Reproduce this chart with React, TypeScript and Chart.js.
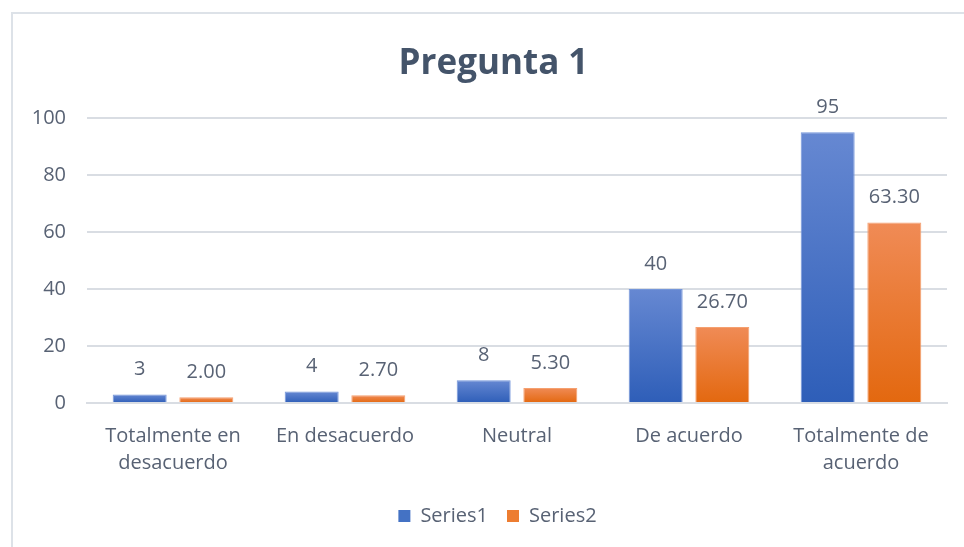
import React, { useEffect, useRef } from "react";
import { Chart, registerables } from "chart.js";

Chart.register(...registerables);

const categories: string[][] = [
  ["Totalmente en", "desacuerdo"],
  ["En desacuerdo"],
  ["Neutral"],
  ["De acuerdo"],
  ["Totalmente de", "acuerdo"],
];
const series1: number[] = [3, 4, 8, 40, 95];
const series2: number[] = [2.0, 2.7, 5.3, 26.7, 63.3];
const series1Labels: string[] = ["3", "4", "8", "40", "95"];
const series2Labels: string[] = ["2.00", "2.70", "5.30", "26.70", "63.30"];
const yTicks: number[] = [0, 20, 40, 60, 80, 100];

const TEXT = "#586274";
const FONT = "'Open Sans', 'DejaVu Sans', sans-serif";

function gradientFill(light: string, dark: string, solid: string) {
  return (ctx: any) => {
    const chart = ctx.chart;
    if (!chart.chartArea || ctx.type !== "data" || !ctx.parsed) return solid;
    const y = chart.scales.y;
    const top = y.getPixelForValue(ctx.parsed.y);
    const base = y.getPixelForValue(0);
    if (!isFinite(top) || !isFinite(base) || top === base) return solid;
    const g = chart.ctx.createLinearGradient(0, top, 0, base);
    g.addColorStop(0, light);
    g.addColorStop(1, dark);
    return g;
  };
}

const valueLabelPlugin = {
  id: "valueLabels",
  afterDatasetsDraw(chart: any) {
    const ctx = chart.ctx;
    const lists = [series1Labels, series2Labels];
    ctx.save();
    ctx.font = `20px ${FONT}`;
    ctx.fillStyle = TEXT;
    ctx.textAlign = "center";
    ctx.textBaseline = "middle";
    chart.data.datasets.forEach((_: any, di: number) => {
      const meta = chart.getDatasetMeta(di);
      meta.data.forEach((bar: any, i: number) => {
        ctx.fillText(lists[di][i], bar.x, bar.y - 25);
      });
    });
    ctx.restore();
  },
};

// centre title and legend on the outer frame rather than the padded chart box
const shiftBoxesPlugin = {
  id: "shiftBoxes",
  afterLayout(chart: any) {
    const t = chart.titleBlock;
    if (t) {
      t.left += 14;
      t.right += 14;
    }
    const l = chart.legend;
    if (l) {
      l.left += 18;
      l.right += 18;
    }
  },
};

export default function App() {
  const ref = useRef<HTMLCanvasElement | null>(null);

  useEffect(() => {
    if (!ref.current) return;
    const solids = ["#4472C4", "#ED7D31"];
    const chart = new Chart(ref.current, {
      type: "bar",
      data: {
        labels: categories,
        datasets: [
          {
            label: "Series1",
            data: series1,
            backgroundColor: gradientFill("#6688D2", "#2E5EB8", solids[0]),
            borderColor: "#7496DA",
            borderWidth: 1,
            categoryPercentage: 0.775,
            barPercentage: 0.81,
          },
          {
            label: "Series2",
            data: series2,
            backgroundColor: gradientFill("#F08B56", "#E3680F", solids[1]),
            borderColor: "#F5A070",
            borderWidth: 1,
            categoryPercentage: 0.775,
            barPercentage: 0.81,
          },
        ],
      },
      options: {
        responsive: false,
        animation: false,
        layout: { padding: { left: 12, right: 17, top: 12, bottom: 11 } },
        plugins: {
          title: {
            display: true,
            text: "Pregunta 1",
            color: "#44546A",
            font: { family: FONT, size: 35, weight: "bold" },
            padding: { top: 31, bottom: 33 },
          },
          legend: {
            position: "bottom",
            labels: {
              color: TEXT,
              font: { family: FONT, size: 20 },
              boxWidth: 12,
              boxHeight: 12,
              padding: 19,
              generateLabels: (c: any) => {
                const items = Chart.defaults.plugins.legend.labels.generateLabels(c);
                return items.map((it: any, i: number) => ({
                  ...it,
                  fillStyle: solids[i],
                  strokeStyle: solids[i],
                  lineWidth: 0,
                }));
              },
            },
          },
          tooltip: { enabled: false },
        },
        scales: {
          x: {
            grid: { display: false, drawTicks: false },
            border: { display: true, color: "#D9DDE3", width: 2 },
            ticks: {
              color: TEXT,
              font: { family: FONT, size: 20, lineHeight: 1.35 },
              padding: 20,
              maxRotation: 0,
              autoSkip: false,
            },
            afterFit: (s: any) => {
              s.height = s.height - 10;
            },
          },
          y: {
            min: 0,
            max: 100,
            afterBuildTicks: (s: any) => {
              s.ticks = yTicks.map((v) => ({ value: v }));
            },
            afterFit: (s: any) => {
              s.width = 75;
            },
            grid: { color: "#D9DDE3", lineWidth: 2, drawTicks: false },
            border: { display: false },
            ticks: {
              color: TEXT,
              font: { family: FONT, size: 20 },
              padding: 21,
            },
          },
        },
      },
      plugins: [valueLabelPlugin, shiftBoxesPlugin],
    });
    return () => chart.destroy();
  }, []);

  return (
    <div style={{ position: "fixed", left: 0, top: 0, width: 964, height: 547, background: "#fff" }}>
      <div
        style={{
          position: "absolute",
          left: 11,
          top: 12,
          width: 964,
          height: 547,
          borderLeft: "2px solid #DDE2E8",
          borderTop: "2px solid #DDE2E8",
        }}
      />
      <canvas ref={ref} width={964} height={547} style={{ position: "absolute", left: 0, top: 0 }} />
    </div>
  );
}
